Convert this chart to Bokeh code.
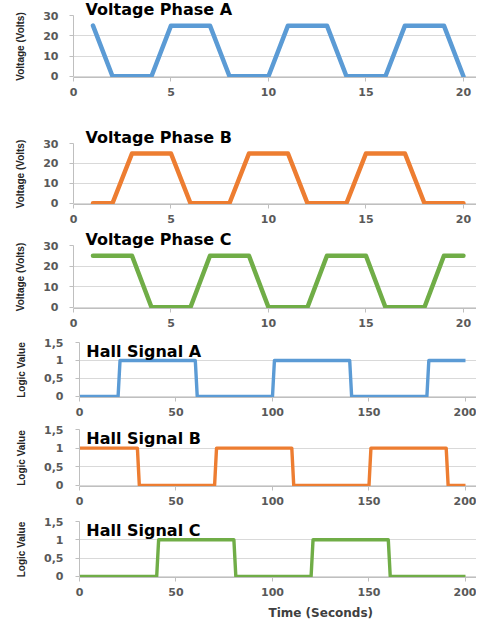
from bokeh.plotting import figure
from bokeh.layouts import column, row
from bokeh.models import Label, FixedTicker, Range1d, Title
from bokeh.embed import file_html
from bokeh.resources import INLINE

# ---- data ----
time_v = [1, 2, 3, 4, 5, 6, 7, 8, 9, 10, 11, 12, 13, 14, 15, 16, 17, 18, 19, 20]
phase_a = [25, 0, 0, 0, 25, 25, 25, 0, 0, 0, 25, 25, 25, 0, 0, 0, 25, 25, 25, 0]
phase_b = [0, 0, 25, 25, 25, 0, 0, 0, 25, 25, 25, 0, 0, 0, 25, 25, 25, 0, 0, 0]
phase_c = [25, 25, 25, 0, 0, 0, 25, 25, 25, 0, 0, 0, 25, 25, 25, 0, 0, 0, 25, 25]

hall_a_t = [0, 20, 21, 60, 61, 100, 101, 140, 141, 180, 181, 200]
hall_a = [0, 0, 1, 1, 0, 0, 1, 1, 0, 0, 1, 1]
hall_b_t = [0, 30, 31, 70, 71, 110, 111, 150, 151, 190, 191, 200]
hall_b = [1, 1, 0, 0, 1, 1, 0, 0, 1, 1, 0, 0]
hall_c_t = [0, 40, 41, 80, 81, 120, 121, 160, 161, 200]
hall_c = [0, 0, 1, 1, 0, 0, 1, 1, 0, 0]

volt_xticks = [0, 5, 10, 15, 20]
volt_yticks = [0, 10, 20, 30]
hall_xticks = [0, 50, 100, 150, 200]
hall_yticks = [0, 0.5, 1, 1.5]
hall_ytick_labels = ["0", "0,5", "1", "1,5"]

volt_titles = ["Voltage Phase A", "Voltage Phase B", "Voltage Phase C"]
hall_titles = ["Hall Signal A", "Hall Signal B", "Hall Signal C"]
volt_ylabel = "Voltage (Volts)"
hall_ylabel = "Logic Value"
x_title = "Time (Seconds)"

BLUE, ORANGE, GREEN = "#5b9bd5", "#ed7d31", "#70ad47"
TICK_FONT = "DejaVu Sans"
WIDTH = 476


def make_fig(height, top, bottom, left, xr, yr, ybounds, xticks, yticks, ylabel, ystand):
    p = figure(width=WIDTH, height=height, x_range=Range1d(*xr), y_range=Range1d(*yr),
               output_backend="svg", toolbar_location=None,
               min_border_top=top, min_border_bottom=bottom, min_border_left=left,
               min_border_right=0)
    p.outline_line_color = None
    p.background_fill_color = "white"
    p.xgrid.grid_line_color = None
    p.ygrid.grid_line_color = "#d9d9d9"
    p.ygrid.ticker = FixedTicker(ticks=yticks)
    p.xaxis.ticker = FixedTicker(ticks=xticks)
    p.yaxis.ticker = FixedTicker(ticks=yticks)
    p.yaxis.bounds = ybounds
    for ax in (p.xaxis[0], p.yaxis[0]):
        ax.axis_line_color = "#bfbfbf"
        ax.major_tick_line_color = "#bfbfbf"
        ax.major_tick_out = 4
        ax.major_tick_in = 0
        ax.minor_tick_line_color = None
        ax.major_label_text_font = TICK_FONT
        ax.major_label_text_font_size = "11px"
        ax.major_label_text_font_style = "bold"
        ax.major_label_text_color = "#595959"
    p.xaxis.major_label_standoff = 6
    p.yaxis.major_label_standoff = ystand
    p.yaxis.axis_label = ylabel
    p.yaxis.axis_label_text_font = "Liberation Sans"
    p.yaxis.axis_label_text_font_size = "10px"
    p.yaxis.axis_label_text_font_style = "bold"
    p.yaxis.axis_label_text_color = "#262626"
    p.yaxis.axis_label_standoff = 14
    return p


figs = []
# (height, border_top, border_bottom)
volt_specs = [(120, 15, 43), (108, 23, 24), (104, 17, 24)]
for (h, t, b), title, ys, col in zip(volt_specs, volt_titles,
                                     [phase_a, phase_b, phase_c],
                                     [BLUE, ORANGE, GREEN]):
    p = make_fig(h, t, b, 73, (0, 20.67), (-0.6, 30), (0, 30),
                 volt_xticks, volt_yticks, volt_ylabel, 11)
    p.title = Title(text=title, align="left", offset=12, standoff=-6,
                    text_font=TICK_FONT, text_font_size="16px",
                    text_font_style="bold", text_color="black")
    p.line(time_v, ys, line_color=col, line_width=4.5, line_join="round", line_cap="round")
    figs.append(p)

hall_specs = [(88, 10, 23), (92, 9, 26), (112, 9, 45)]
for (h, t, b), title, xs, ys, col in zip(hall_specs, hall_titles,
                                         [hall_a_t, hall_b_t, hall_c_t],
                                         [hall_a, hall_b, hall_c], [BLUE, ORANGE, GREEN]):
    p = make_fig(h, t, b, 79, (0, 205.7), (-0.03, 1.5), (0, 1.5),
                 hall_xticks, hall_yticks, hall_ylabel, 12)
    p.yaxis.major_label_overrides = {k: v for k, v in zip(hall_yticks, hall_ytick_labels)}
    p.line(xs, ys, line_color=col, line_width=3.4, line_join="round")
    p.add_layout(Label(x=3.5, y=1.26, text=title, text_font=TICK_FONT, text_font_size="16px",
                       text_font_style="bold", text_color="black",
                       text_baseline="middle", text_align="left"))
    figs.append(p)

figs[-1].add_layout(Title(text=x_title, align="left", offset=189, standoff=10,
                          text_font=TICK_FONT, text_font_size="12px",
                          text_font_style="bold", text_color="#404040"), "below")

layout = column(*[row(f) for f in figs], spacing=0)
open("out.html", "w").write(file_html(layout, INLINE))
